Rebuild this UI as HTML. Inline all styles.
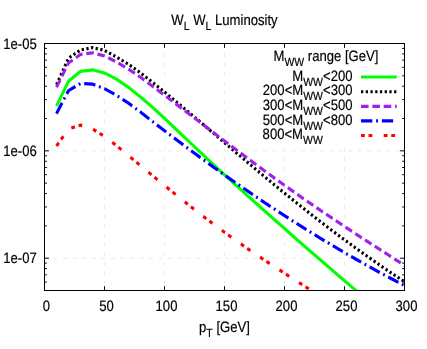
<!DOCTYPE html>
<html><head><meta charset="utf-8"><title>WL WL Luminosity</title>
<style>
html,body{margin:0;padding:0;background:#fff;}
body{width:427px;height:349px;overflow:hidden;}
svg{display:block;}
text{font-family:"Liberation Sans",sans-serif;font-size:15px;fill:#000;stroke:#000;stroke-width:0.2px;text-rendering:geometricPrecision;}
.sub{font-size:12px;}
</style></head><body>
<svg width="427" height="349" viewBox="0 0 427 349">
<rect width="427" height="349" fill="#fff"/>
<defs><clipPath id="c"><rect x="44.5" y="43.5" width="360.0" height="247.0"/></clipPath></defs>

<g stroke="#eaeaea" stroke-width="1" stroke-dasharray="3.8 5.7" fill="none"><line x1="104.5" y1="43.5" x2="104.5" y2="290.5"/><line x1="164.5" y1="43.5" x2="164.5" y2="290.5"/><line x1="224.5" y1="43.5" x2="224.5" y2="290.5"/><line x1="284.5" y1="43.5" x2="284.5" y2="290.5"/><line x1="344.5" y1="43.5" x2="344.5" y2="290.5"/><line x1="44.5" y1="150.84" x2="404.5" y2="150.84"/><line x1="44.5" y1="258.19" x2="404.5" y2="258.19"/></g>
<rect x="258" y="48" width="146" height="95" fill="#fff"/>
<path d="M44.5,290.5 v-4.3 M44.5,43.5 v4.3 M104.5,290.5 v-4.3 M104.5,43.5 v4.3 M164.5,290.5 v-4.3 M164.5,43.5 v4.3 M224.5,290.5 v-4.3 M224.5,43.5 v4.3 M284.5,290.5 v-4.3 M284.5,43.5 v4.3 M344.5,290.5 v-4.3 M344.5,43.5 v4.3 M404.5,290.5 v-4.3 M404.5,43.5 v4.3 M44.5,43.50 h4.4 M404.5,43.50 h-4.4 M44.5,150.84 h4.4 M404.5,150.84 h-4.4 M44.5,258.19 h4.4 M404.5,258.19 h-4.4 M44.5,118.53 h2.3 M404.5,118.53 h-2.3 M44.5,99.63 h2.3 M404.5,99.63 h-2.3 M44.5,86.22 h2.3 M404.5,86.22 h-2.3 M44.5,75.81 h2.3 M404.5,75.81 h-2.3 M44.5,67.31 h2.3 M404.5,67.31 h-2.3 M44.5,60.13 h2.3 M404.5,60.13 h-2.3 M44.5,53.90 h2.3 M404.5,53.90 h-2.3 M44.5,48.41 h2.3 M404.5,48.41 h-2.3 M44.5,225.87 h2.3 M404.5,225.87 h-2.3 M44.5,206.97 h2.3 M404.5,206.97 h-2.3 M44.5,193.56 h2.3 M404.5,193.56 h-2.3 M44.5,183.16 h2.3 M404.5,183.16 h-2.3 M44.5,174.66 h2.3 M404.5,174.66 h-2.3 M44.5,167.47 h2.3 M404.5,167.47 h-2.3 M44.5,161.25 h2.3 M404.5,161.25 h-2.3 M44.5,155.75 h2.3 M404.5,155.75 h-2.3 M44.5,290.50 h2.3 M404.5,290.50 h-2.3 M44.5,282.00 h2.3 M404.5,282.00 h-2.3 M44.5,274.81 h2.3 M404.5,274.81 h-2.3 M44.5,268.59 h2.3 M404.5,268.59 h-2.3 M44.5,263.10 h2.3 M404.5,263.10 h-2.3" stroke="#000" stroke-width="1" fill="none"/>
<g clip-path="url(#c)"><g transform="scale(1,1.0905)">
<path d="M56.50,97.111 L68.50,74.553 L80.50,65.475 L92.50,64.007 L104.50,66.850 L116.50,72.536 L128.50,80.055 L140.50,88.950 L152.50,98.304 L164.50,108.482 L176.50,118.936 L188.50,129.390 L200.50,139.752 L212.50,150.115 L224.50,160.385 L236.50,170.381 L248.50,180.284 L260.50,190.096 L272.50,199.908 L284.50,209.629 L296.50,219.349 L308.50,228.978 L320.50,238.514 L332.50,247.960 L344.50,257.405 L356.50,266.758 L368.50,276.020 L380.50,285.190 L392.50,294.360 L404.50,303.530" stroke="#00ff00" stroke-width="2.93" fill="none" stroke-linejoin="miter"/>
<path d="M56.50,77.762 L68.50,53.370 L80.50,45.851 L92.50,43.650 L104.50,46.217 L116.50,52.270 L128.50,58.872 L140.50,66.795 L152.50,75.470 L164.50,84.365 L176.50,93.453 L188.50,102.687 L200.50,112.022 L212.50,121.412 L224.50,130.830 L236.50,140.229 L248.50,149.583 L260.50,158.854 L272.50,168.024 L284.50,177.075 L296.50,185.979 L308.50,194.727 L320.50,203.310 L332.50,211.710 L344.50,219.936 L356.50,227.969 L368.50,235.837 L380.50,243.521 L392.50,251.041 L404.50,258.404" stroke="#000000" stroke-width="2.93" fill="none" stroke-linejoin="miter" stroke-dasharray="2.27 2.46"/>
<path d="M56.50,79.963 L68.50,57.772 L80.50,49.977 L92.50,48.418 L104.50,51.261 L116.50,56.855 L128.50,63.457 L140.50,70.848 L152.50,79.092 L164.50,87.336 L176.50,95.672 L188.50,104.062 L200.50,112.481 L212.50,120.890 L224.50,129.271 L236.50,137.579 L248.50,145.814 L260.50,153.957 L272.50,161.990 L284.50,169.904 L296.50,177.698 L308.50,185.365 L320.50,192.921 L332.50,200.348 L344.50,207.685 L356.50,214.920 L368.50,222.082 L380.50,229.188 L392.50,236.268 L404.50,243.347" stroke="#a020f0" stroke-width="2.93" fill="none" stroke-linejoin="miter" stroke-dasharray="7.57 3.78"/>
<path d="M56.50,104.172 L68.50,83.081 L80.50,76.570 L92.50,77.121 L104.50,81.247 L116.50,87.483 L128.50,94.635 L140.50,102.751 L152.50,111.435 L164.50,119.872 L176.50,128.198 L188.50,136.424 L200.50,144.521 L212.50,152.508 L224.50,160.376 L236.50,168.106 L248.50,175.718 L260.50,183.191 L272.50,190.536 L284.50,197.735 L296.50,204.805 L308.50,211.729 L320.50,218.514 L332.50,225.154 L344.50,231.637 L356.50,237.983 L368.50,244.182 L380.50,250.225 L392.50,256.121 L404.50,261.862" stroke="#0000ff" stroke-width="2.93" fill="none" stroke-linejoin="miter" stroke-dasharray="11.35 3.78 1.89 3.78"/>
<path d="M56.50,133.884 L68.50,118.203 L80.50,114.718 L92.50,118.203 L104.50,125.172 L116.50,133.517 L128.50,142.705 L140.50,151.793 L152.50,160.963 L164.50,170.069 L176.50,179.046 L188.50,187.868 L200.50,196.479 L212.50,204.869 L224.50,213.022 L236.50,220.935 L248.50,228.620 L260.50,236.094 L272.50,243.393 L284.50,250.564 L296.50,257.652 L308.50,264.741 L320.50,271.820 L332.50,278.900 L344.50,285.988 L356.50,293.067 L368.50,300.156 L380.50,307.235 L392.50,314.324 L404.50,321.403" stroke="#ff0000" stroke-width="2.93" fill="none" stroke-linejoin="miter" stroke-dasharray="3.78 3.78 3.78 11.35"/>
</g></g>
<rect x="44.5" y="43.5" width="360.0" height="247.0" fill="none" stroke="#000" stroke-width="1"/>
<g opacity="0.999">
<path transform="scale(1,1.0905)" d="M361,70.610 L396.7,70.610" stroke="#00ff00" stroke-width="2.93" fill="none" stroke-linejoin="miter"/>
<path transform="scale(1,1.0905)" d="M361,84.136 L396.7,84.136" stroke="#000000" stroke-width="2.93" fill="none" stroke-linejoin="miter" stroke-dasharray="2.27 2.46"/>
<path transform="scale(1,1.0905)" d="M361,97.478 L396.7,97.478" stroke="#a020f0" stroke-width="2.93" fill="none" stroke-linejoin="miter" stroke-dasharray="7.57 3.78"/>
<path transform="scale(1,1.0905)" d="M361,110.912 L396.7,110.912" stroke="#0000ff" stroke-width="2.93" fill="none" stroke-linejoin="miter" stroke-dasharray="11.35 3.78 1.89 3.78"/>
<path transform="scale(1,1.0905)" d="M361,124.255 L396.7,124.255" stroke="#ff0000" stroke-width="2.93" fill="none" stroke-linejoin="miter" stroke-dasharray="3.78 3.78 3.78 11.35"/>
<text transform="translate(273.5,61.3) scale(0.873,1)" text-anchor="start">M<tspan class="sub" dy="5">WW</tspan><tspan dy="-5"> range [GeV]</tspan></text>
<text transform="translate(352.5,80.6) scale(0.873,1)" text-anchor="end">M<tspan class="sub" dy="5">WW</tspan><tspan dy="-5">&lt;200</tspan></text>
<text transform="translate(352.5,95.3) scale(0.873,1)" text-anchor="end">200&lt;M<tspan class="sub" dy="5">WW</tspan><tspan dy="-5">&lt;300</tspan></text>
<text transform="translate(352.5,109.9) scale(0.873,1)" text-anchor="end">300&lt;M<tspan class="sub" dy="5">WW</tspan><tspan dy="-5">&lt;500</tspan></text>
<text transform="translate(352.5,124.5) scale(0.873,1)" text-anchor="end">500&lt;M<tspan class="sub" dy="5">WW</tspan><tspan dy="-5">&lt;800</tspan></text>
<text transform="translate(262.6,139.1) scale(0.873,1)" text-anchor="start">800&lt;M<tspan class="sub" dy="5">WW</tspan><tspan dy="-5"></tspan></text>
<text transform="translate(224.5,24.8) scale(0.873,1)" text-anchor="middle">W<tspan class="sub" dy="5">L</tspan><tspan dy="-5"> W</tspan><tspan class="sub" dy="5">L</tspan><tspan dy="-5"> Luminosity</tspan></text>
<text transform="translate(46.5,310.8) scale(0.873,1)" text-anchor="middle">0</text>
<text transform="translate(106.5,310.8) scale(0.873,1)" text-anchor="middle">50</text>
<text transform="translate(166.5,310.8) scale(0.873,1)" text-anchor="middle">100</text>
<text transform="translate(226.5,310.8) scale(0.873,1)" text-anchor="middle">150</text>
<text transform="translate(286.5,310.8) scale(0.873,1)" text-anchor="middle">200</text>
<text transform="translate(346.5,310.8) scale(0.873,1)" text-anchor="middle">250</text>
<text transform="translate(406.5,310.8) scale(0.873,1)" text-anchor="middle">300</text>
<text transform="translate(36.8,48.6) scale(0.873,1)" text-anchor="end">1e-05</text>
<text transform="translate(36.8,155.9) scale(0.873,1)" text-anchor="end">1e-06</text>
<text transform="translate(36.8,263.3) scale(0.873,1)" text-anchor="end">1e-07</text>
<text transform="translate(224.5,331.5) scale(0.873,1)" text-anchor="middle">p<tspan class="sub" dy="5">T</tspan><tspan dy="-5"> [GeV]</tspan></text>
</g>
</svg></body></html>
